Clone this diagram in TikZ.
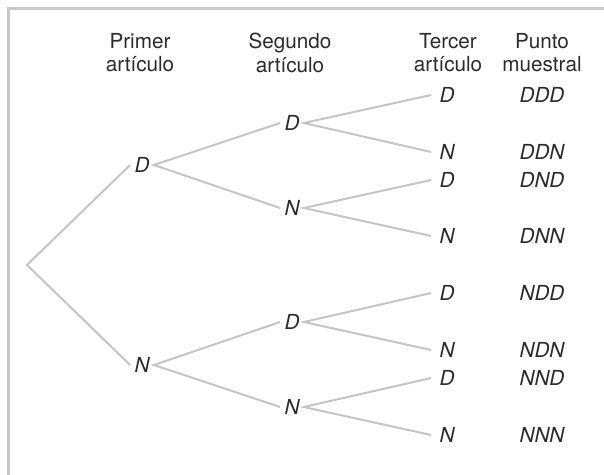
\documentclass[tikz,border=0pt]{standalone}
\usepackage{fontspec}
\setmainfont{TeX Gyre Heros}
\definecolor{rama}{HTML}{C4C4C4}
\definecolor{marco}{HTML}{C8C8C8}
\definecolor{tinta}{HTML}{2B2B2B}
\newcommand{\tam}{\fontsize{10.35}{11.75}\selectfont}
\tikzset{
  etiq/.style={font=\tam\itshape, text=tinta, inner xsep=2pt, inner ysep=0pt},
  hoja/.style={etiq, inner xsep=4pt},
  punto/.style={font=\tam\itshape, text=tinta, inner sep=0pt},
  titulo/.style={font=\tam, align=center, text=tinta, inner sep=0pt, anchor=north},
  ramal/.style={draw=rama, line width=1pt}
}
\begin{document}
\begin{tikzpicture}[x=0.5pt,y=-0.5pt]
    \useasboundingbox (0,0) rectangle (604,475);
    %Marco
    \draw[marco, line width=1.5pt] (604,9) -- (8,9) -- (8,475);
    %Titulos
    \node[titulo] (t1) at (140,33) {Primer\\artículo};
    \node[titulo] (t2) at (290,33) {Segundo\\artículo};
    \node[titulo] (t3) at (448,33) {Tercer\\artículo};
    \node[titulo] (t4) at (542,33) {Punto\\muestral};
    %Nivel 1
    \coordinate (r) at (27,265);
    \node[etiq] (d) at (142,165) {D};
    \node[etiq] (n) at (142,365) {N};
    %Nivel 2
    \node[etiq] (dd) at (292,123) {D};
    \node[etiq] (dn) at (292,208) {N};
    \node[etiq] (nd) at (292,322) {D};
    \node[etiq] (nn) at (292,407) {N};
    %Nivel 3
    \node[hoja] (ddd) at (447,95) {D};
    \node[hoja] (ddn) at (447,152) {N};
    \node[hoja] (dnd) at (447,180) {D};
    \node[hoja] (dnn) at (447,236) {N};
    \node[hoja] (ndd) at (447,293) {D};
    \node[hoja] (ndn) at (447,350) {N};
    \node[hoja] (nnd) at (447,378) {D};
    \node[hoja] (nnn) at (447,435) {N};
    %Puntos muestrales
    \node[punto] (pddd) at (542,95) {DDD};
    \node[punto] (pddn) at (542,152) {DDN};
    \node[punto] (pdnd) at (542,180) {DND};
    \node[punto] (pdnn) at (542,236) {DNN};
    \node[punto] (pndd) at (542,293) {NDD};
    \node[punto] (pndn) at (542,350) {NDN};
    \node[punto] (pnnd) at (542,378) {NND};
    \node[punto] (pnnn) at (542,435) {NNN};
    %Ramas
    \draw[ramal] (d.west) -- (r) -- (n.west);
    \draw[ramal] (dd.west) -- (d.east) -- (dn.west);
    \draw[ramal] (nd.west) -- (n.east) -- (nn.west);
    \draw[ramal] (ddd.west) -- (dd.east) -- (ddn.west);
    \draw[ramal] (dnd.west) -- (dn.east) -- (dnn.west);
    \draw[ramal] (ndd.west) -- (nd.east) -- (ndn.west);
    \draw[ramal] (nnd.west) -- (nn.east) -- (nnn.west);
\end{tikzpicture}
\end{document}
